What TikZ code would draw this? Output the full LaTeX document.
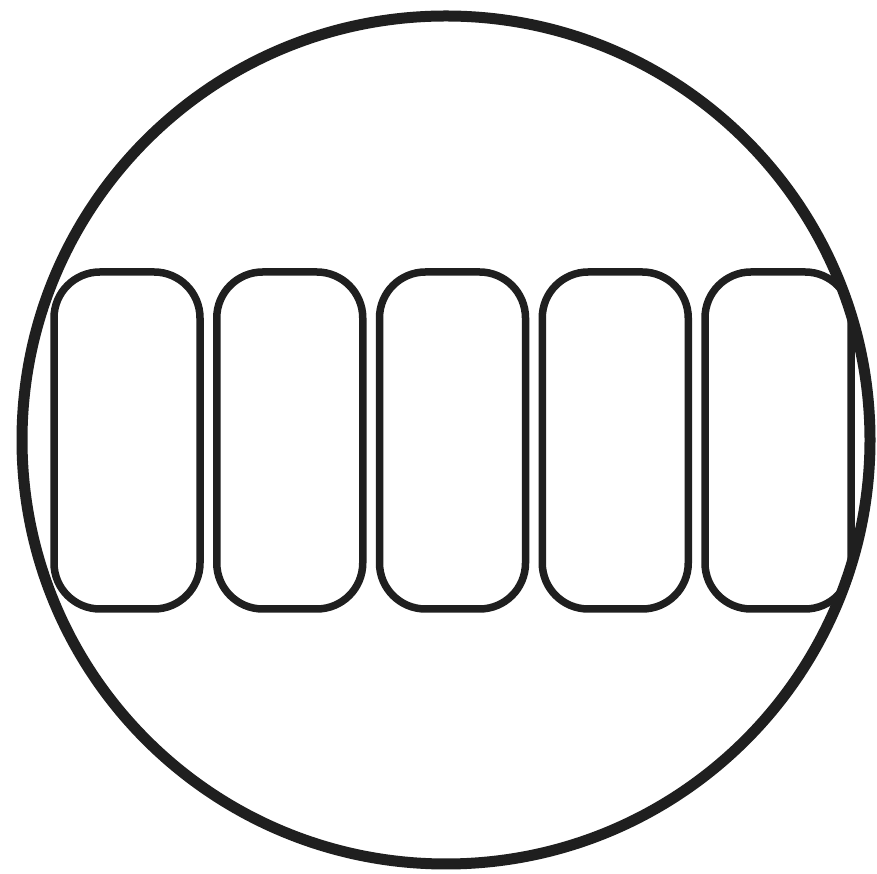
\documentclass[tikz,border=0pt]{standalone}
\begin{document}
\begin{tikzpicture}[x=1pt,y=1pt,
  pill/.style={draw=black!88, line width=7.5pt, rounded corners=46pt, minimum width=146pt, minimum height=337pt, inner sep=0pt, outer sep=0pt},
  ring/.style={draw=black!88, line width=11pt}]
\useasboundingbox (0,0) rectangle (877,874);
\fill[white] (0,0) rectangle (877,874);
\node[pill] (p1) at (127,433.5) {};
\node[pill] (p2) at (289.75,433.5) {};
\node[pill] (p3) at (452.5,433.5) {};
\node[pill] (p4) at (615.25,433.5) {};
\node[pill] (p5) at (778,433.5) {};
\node[circle, ring, minimum size=848pt, inner sep=0pt] (c) at (446,434) {};
\end{tikzpicture}
\end{document}
